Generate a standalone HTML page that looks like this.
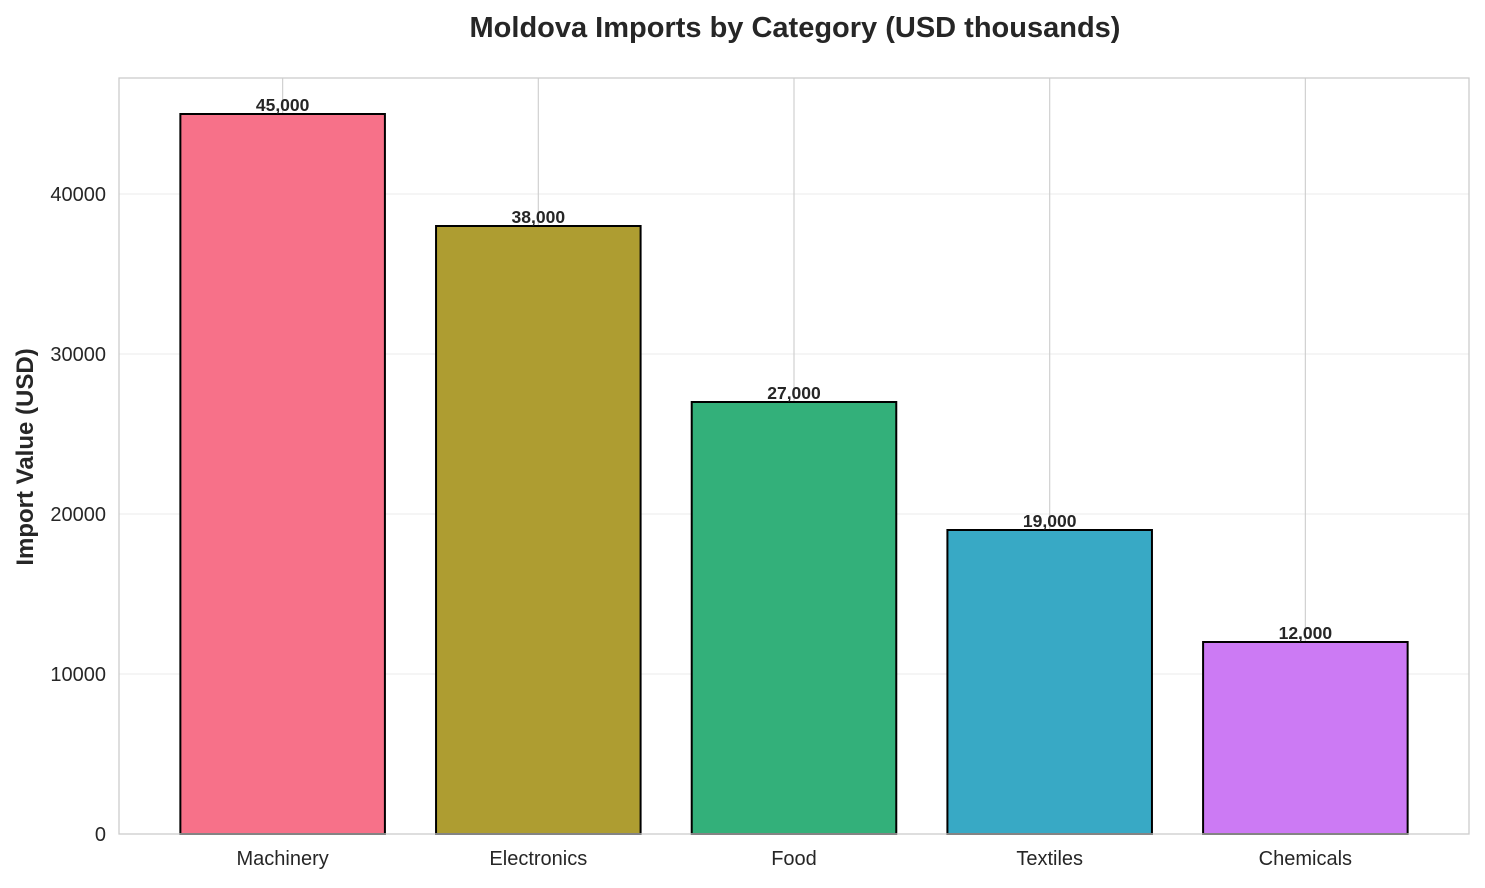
<!DOCTYPE html>
<html><head><meta charset="utf-8"><style>
body{margin:0;background:#fff;}
svg text{font-family:"Liberation Sans",Arial,sans-serif;}
</style></head><body>
<svg id="chart" width="1485" height="883" xmlns="http://www.w3.org/2000/svg">
<rect width="1485" height="883" fill="#fff"/>
<text x="795" y="37" text-anchor="middle" font-size="29" font-weight="bold" fill="#262626">Moldova Imports by Category (USD thousands)</text>
<g id="grid"></g>
<g id="bars"></g>
<g id="labels"></g>
<rect x="119" y="78" width="1350" height="756" fill="none" stroke="#cccccc" stroke-width="1.3"/>
<text transform="translate(33,457) rotate(-90)" text-anchor="middle" font-size="24" font-weight="bold" fill="#262626">Import Value (USD)</text>
</svg>
<script>
const categories = ["Machinery","Electronics","Food","Textiles","Chemicals"];
const values = [45000,38000,27000,19000,12000];
const colors = ["#f77189","#ae9d31","#33b07a","#38a9c5","#cc7af4"];
const yTicks = [0,10000,20000,30000,40000];
const valueLabels = ["45,000","38,000","27,000","19,000","12,000"];

const L=119,R=1469,T=78,B=834;
const yMax=47250, xMin=-0.64, xMax=4.64;
const y=v=>B-(v/yMax)*(B-T);
const x=i=>L+(i-xMin)/(xMax-xMin)*(R-L);
const bw=0.8*(R-L)/(xMax-xMin);
const NS="http://www.w3.org/2000/svg";
function mk(tag,attrs,parent){const e=document.createElementNS(NS,tag);for(const k in attrs)e.setAttribute(k,attrs[k]);document.getElementById(parent).appendChild(e);return e;}

yTicks.forEach(t=>{
  const l=mk('line',{x1:L,x2:R,y1:y(t),y2:y(t),stroke:'#ebebeb','stroke-width':1},'grid');
  
  
  const tx=mk('text',{x:L-13,y:y(t)+7,'text-anchor':'end','font-size':20,fill:'#262626'},'labels');
  tx.textContent=t;
  
  
});
categories.forEach((c,i)=>{
  const g=mk('line',{x1:x(i),x2:x(i),y1:T,y2:B,stroke:'#d0d0d0','stroke-width':1.2},'grid');
  
  
  const r=mk('rect',{x:x(i)-bw/2,y:y(values[i]),width:bw,height:B-y(values[i]),fill:colors[i],stroke:'#000','stroke-width':2},'bars');
  
  
  const v=mk('text',{x:x(i),y:y(values[i])-3,'text-anchor':'middle','font-size':17.5,'font-weight':'bold',fill:'#262626'},'labels');
  v.textContent=valueLabels[i];
  
  
  const xl=mk('text',{x:x(i),y:B+31,'text-anchor':'middle','font-size':20,fill:'#262626'},'labels');
  xl.textContent=c;
  
  
});
</script>
</body></html>
